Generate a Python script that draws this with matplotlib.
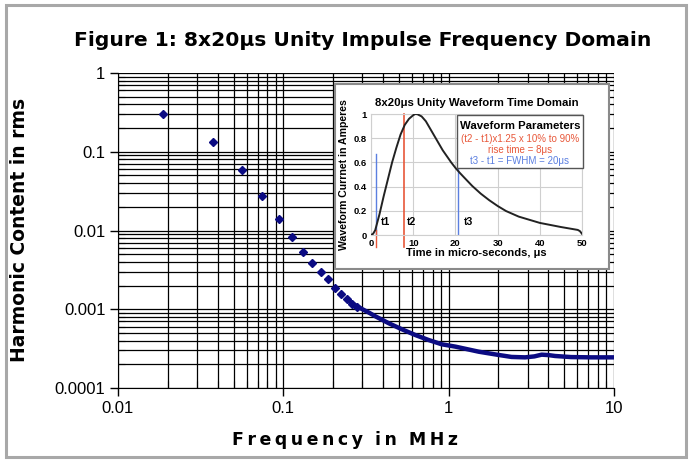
import numpy as np
import matplotlib
matplotlib.use("Agg")
import matplotlib.pyplot as plt
from matplotlib.patches import Rectangle
from matplotlib.ticker import LogLocator, FixedLocator, NullFormatter

# --- harmonic spectrum (frequency domain) ---
harm_freq = [0.0187, 0.0374, 0.0561, 0.0748, 0.0935, 0.1122, 0.1309, 0.1496,
             0.1683, 0.187, 0.2057, 0.2244, 0.2431, 0.2618, 0.2805]
harm_amp = [0.299, 0.133, 0.0592, 0.0274, 0.0141, 0.00826, 0.00538, 0.00387,
            0.00297, 0.0024, 0.00188, 0.00155, 0.00133, 0.00118, 0.00108]

# dense part of the spectrum (markers overlap into a band)
tail_freq = [0.33, 0.364, 0.435, 0.522, 0.628, 0.756, 0.908, 1.1, 1.52, 2.0,
             2.4, 2.9, 3.3, 3.65, 4.0, 4.4, 5.5, 7.3, 10.0]
tail_amp = [0.000904, 0.000804, 0.000663, 0.000556, 0.000471, 0.000407,
            0.000359, 0.000335, 0.000289, 0.000263, 0.000248, 0.000245,
            0.000252, 0.000265, 0.000262, 0.000255, 0.000247, 0.000245,
            0.000245]

x_ticks = [0.01, 0.1, 1, 10]
x_ticklabels = ["0.01", "0.1", "1", "10"]
y_ticks = [0.0001, 0.001, 0.01, 0.1, 1]
y_ticklabels = ["0.0001", "0.001", "0.01", "0.1", "1"]

# --- inset: 8x20us waveform (time domain) ---
wave_t = [0, 0.5, 1, 2, 3, 4, 5, 6, 7, 8, 9, 10, 10.5, 11, 12, 13, 14, 15,
          16, 17, 18, 19, 20, 21, 22, 24, 26, 28, 30, 32, 35, 40, 45, 49,
          49.5, 50]
wave_i = [0, 0.01, 0.04, 0.17, 0.32, 0.46, 0.6, 0.72, 0.83, 0.91, 0.96,
          0.99, 1.0, 0.998, 0.98, 0.94, 0.88, 0.82, 0.76, 0.7, 0.65, 0.6,
          0.555, 0.515, 0.478, 0.405, 0.342, 0.288, 0.24, 0.198, 0.152, 0.1,
          0.066, 0.042, 0.032, 0.01]
t1, t2, t3 = 1.2, 7.9, 20.7

W, H = 691, 461
navy = "#0b0b82"
red = "#e8583a"
blue = "#5b7fe0"

fig = plt.figure(figsize=(W / 100, H / 100), dpi=100)
fig.patch.set_facecolor("white")

# outer grey frame
fig.patches.append(Rectangle((6 / W, 1 - 457 / H), (686 - 6) / W, (457 - 5) / H,
                             transform=fig.transFigure, fill=False,
                             edgecolor="#a8a8a8", linewidth=2.2))

ax = fig.add_axes([118 / W, 1 - 388 / H, (614 - 118) / W, (388 - 73) / H])
ax.set_xscale("log")
ax.set_yscale("log")
ax.set_xlim(0.01, 10)
ax.set_ylim(0.0001, 1)

ax.xaxis.set_major_locator(FixedLocator(x_ticks))
ax.set_xticklabels(x_ticklabels)
ax.yaxis.set_major_locator(FixedLocator(y_ticks))
ax.set_yticklabels(y_ticklabels)
ax.xaxis.set_minor_locator(LogLocator(base=10, subs=np.arange(2, 10), numticks=20))
ax.yaxis.set_minor_locator(LogLocator(base=10, subs=np.arange(2, 10), numticks=20))
ax.xaxis.set_minor_formatter(NullFormatter())
ax.yaxis.set_minor_formatter(NullFormatter())

ax.grid(True, which="both", color="black", linewidth=0.9)
ax.set_axisbelow(True)
for s in ["top", "right"]:
    ax.spines[s].set_visible(False)
ax.tick_params(which="major", direction="out", length=6, width=1,
               labelsize=12, pad=3)
ax.tick_params(which="minor", direction="in", length=5, width=0.8)
for lab in ax.get_xticklabels() + ax.get_yticklabels():
    lab.set_family("Liberation Sans")

line_f = harm_freq[12:] + tail_freq
line_a = harm_amp[12:] + tail_amp
ax.plot(line_f, line_a, color=navy, linewidth=3.2, solid_capstyle="round",
        zorder=3)
ax.plot(harm_freq, harm_amp, linestyle="none", marker="D", markersize=3.6,
        color=navy, zorder=4)

fig.text(0.525, 1 - 40 / H, "Figure 1: 8x20\u03bcs Unity Impulse Frequency Domain",
         ha="center", va="center", fontsize=14.6, fontweight="bold")
fig.text(20 / W, 1 - 230 / H, "Harmonic Content in rms", rotation=90,
         ha="center", va="center", fontsize=13.5, fontweight="bold")
fig.text(345 / W, 1 - 440 / H, "F\u2009r\u2009e\u2009q\u2009u\u2009e\u2009n\u2009c\u2009y  i\u2009n  M\u2009H\u2009z",
         ha="center", va="center", fontsize=12.5, fontweight="bold")

# inset background box
fig.patches.append(Rectangle((335 / W, 1 - 269 / H), (609 - 335) / W, (269 - 84) / H,
                             transform=fig.transFigure, facecolor="white",
                             edgecolor="#8a8a8a", linewidth=1.5, zorder=5))

ins = fig.add_axes([371 / W, 1 - 235 / H, (582 - 371) / W, (235 - 114) / H])
ins.set_zorder(6)
ins.set_xlim(0, 50)
ins.set_ylim(0, 1)
ins.set_xticks([0, 10, 20, 30, 40, 50])
ins.set_yticks([0, 0.2, 0.4, 0.6, 0.8, 1])
ins.set_yticklabels(["0", "0.2", "0.4", "0.6", "0.8", "1"])
ins.grid(True, color="#cfcfcf", linewidth=0.8)
ins.set_axisbelow(True)
for s in ins.spines.values():
    s.set_color("#cfcfcf")
    s.set_linewidth(0.8)
ins.tick_params(length=0, labelsize=6.8, pad=3)
for lab in ins.get_xticklabels() + ins.get_yticklabels():
    lab.set_fontweight("bold")
    lab.set_family("Liberation Sans")

ins.plot(wave_t, wave_i, color="#222222", linewidth=1.4, zorder=3)
ins.plot([t1, t1], [0, 0.67], color=blue, linewidth=1.0, zorder=2)
ins.plot([t1, t1], [-0.1, 0.04], color=red, linewidth=1.0, clip_on=False)
ins.plot([t2, t2], [-0.1, 1.0], color=red, linewidth=1.2, clip_on=False)
ins.plot([t3, t3], [0, 0.55], color=blue, linewidth=1.0, zorder=2)
ins.text(2.4, 0.08, "t1", fontsize=7.5, fontweight="bold", family="Liberation Sans")
ins.text(8.6, 0.08, "t2", fontsize=7.5, fontweight="bold", family="Liberation Sans")
ins.text(22.0, 0.08, "t3", fontsize=7.5, fontweight="bold", family="Liberation Sans")

ins.set_title("8x20\u03bcs Unity Waveform Time Domain", fontsize=8.2,
              fontweight="bold", family="Liberation Sans", pad=6)
ins.set_xlabel("Time in micro-seconds, \u03bcs", fontsize=8,
               fontweight="bold", family="Liberation Sans", labelpad=0)
ins.set_ylabel("Waveform Currnet in Amperes", fontsize=7.6,
               fontweight="bold", family="Liberation Sans", labelpad=3)

# parameter box
fig.patches.append(Rectangle((457 / W, 1 - 168 / H), (583 - 457) / W, (168 - 115) / H,
                             transform=fig.transFigure, facecolor="white",
                             edgecolor="#555555", linewidth=1.0, zorder=7))
fig.text(520 / W, 1 - 126 / H, "Waveform Parameters", ha="center", va="center",
         fontsize=8.2, fontweight="bold", family="Liberation Sans", zorder=8)
fig.text(520 / W, 1 - 139 / H, "(t2 - t1)x1.25 x 10% to 90%", ha="center",
         va="center", fontsize=7, color=red, family="Liberation Sans", zorder=8)
fig.text(520 / W, 1 - 150 / H, "rise time = 8\u03bcs", ha="center",
         va="center", fontsize=7, color=red, family="Liberation Sans", zorder=8)
fig.text(520 / W, 1 - 161 / H, "t3 - t1 = FWHM = 20\u03bcs", ha="center",
         va="center", fontsize=7, color=blue, family="Liberation Sans", zorder=8)

fig.savefig("out.png", dpi=100)
